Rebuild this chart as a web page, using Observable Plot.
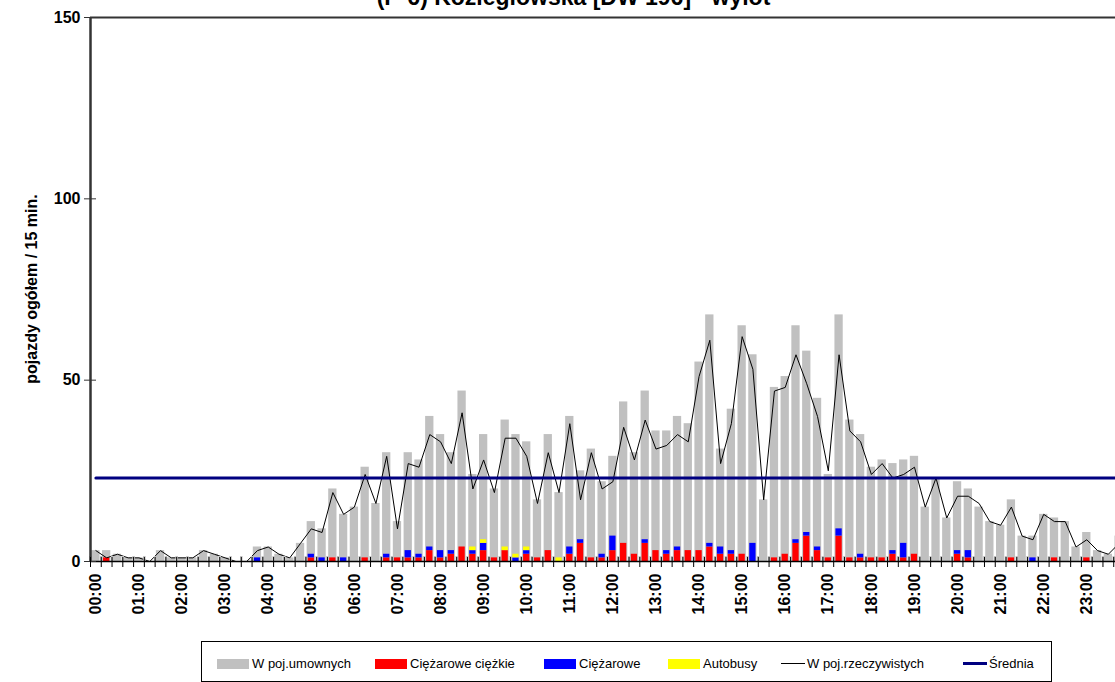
<!DOCTYPE html>
<html><head><meta charset="utf-8">
<script src="https://cdn.jsdelivr.net/npm/d3@7"></script>
<script src="https://cdn.jsdelivr.net/npm/@observablehq/plot@0.6"></script>
<style>
html,body{margin:0;padding:0;overflow:hidden;background:#fff;}
#wrap{position:relative;width:1115px;height:682px;overflow:hidden;font-family:"Liberation Sans",Arial,sans-serif;}
#title{position:absolute;left:0;width:1147px;top:-16px;text-align:center;font-weight:bold;font-size:23px;line-height:27px;color:#000;white-space:nowrap;}
#ytitle{position:absolute;left:32px;top:289px;transform:translate(-50%,-50%) rotate(-90deg);font-weight:bold;font-size:16px;white-space:nowrap;color:#000;}
#chart{position:absolute;left:0;top:0;}
#chart svg{max-width:none;}
#legend{position:absolute;left:201px;top:641px;width:851px;height:41px;border:1px solid #000;box-sizing:border-box;font-size:13px;color:#000;}
#legend .sw{position:absolute;top:17px;width:32px;height:10px;}
#legend .ln{position:absolute;width:24px;}
#legend .lb{position:absolute;top:14px;line-height:16px;white-space:nowrap;}
</style></head>
<body>
<div id="wrap">
  <div id="chart"></div>
  <div id="title">(P-6) Koziegłowska [DW 196] - wylot</div>
  <div id="ytitle">pojazdy ogółem / 15 min.</div>
  <div id="legend">
    <span class="sw" style="left:15px;background:#c0c0c0"></span><span class="lb" style="left:50px">W poj.umownych</span>
    <span class="sw" style="left:173px;background:#ff0000"></span><span class="lb" style="left:208px">Ciężarowe ciężkie</span>
    <span class="sw" style="left:342px;background:#0000ff"></span><span class="lb" style="left:377px">Ciężarowe</span>
    <span class="sw" style="left:466px;background:#ffff00"></span><span class="lb" style="left:501px">Autobusy</span>
    <span class="ln" style="left:579px;top:21px;height:1px;background:#000"></span><span class="lb" style="left:605px">W poj.rzeczywistych</span>
    <span class="ln" style="left:761px;top:20px;height:3px;background:#000080"></span><span class="lb" style="left:787px">Średnia</span>
  </div>
</div>
<script>
// 15-minute slots, 00:00 .. 23:45
const hourLabels = ["00:00","01:00","02:00","03:00","04:00","05:00","06:00","07:00","08:00","09:00","10:00","11:00",
  "12:00","13:00","14:00","15:00","16:00","17:00","18:00","19:00","20:00","21:00","22:00","23:00"];

// W poj.umownych (passenger car units)
const umowne = [3,3,2,1,1,0,3,1,1,1,3,2,1,0,0,4,4,2,1,5,
  11,9,20,13,15,26,16,30,11,30,28,40,35,30,47,24,35,20,39,35,
  33,17,35,19,40,25,31,22,29,44,30,47,36,36,40,38,55,68,31,42,
  65,57,17,48,51,65,58,45,24,68,39,35,26,28,27,28,29,15,23,12,
  22,20,15,11,10,17,7,7,13,12,11,4,8,3,2,7];

// W poj.rzeczywistych (actual vehicles)
const rzeczywiste = [3,1,2,1,1,0,3,1,1,1,3,2,1,0,0,3,4,2,1,5,
  9,8,19,13,15,24,16,29,9,27,26,35,33,27,41,20,28,19,34,34,
  29,16,30,19,38,17,30,20,22,37,28,39,31,32,35,33,51,61,27,38,
  62,53,17,47,48,57,49,40,25,57,36,33,24,27,23,24,26,15,23,12,
  18,18,16,11,10,15,7,6,13,11,11,4,6,3,2,5];

// Ciężarowe ciężkie
const ciezkie = [0,1,0,0,0,0,0,0,0,0,0,0,0,0,0,0,0,0,0,0,
  1,0,1,0,0,1,0,1,1,1,1,3,1,2,4,2,3,1,3,0,
  2,1,3,0,2,5,1,1,3,5,2,5,3,2,3,3,3,4,2,2,
  2,0,0,1,2,5,7,3,1,7,1,1,1,1,2,1,2,0,0,0,
  2,1,0,0,0,1,0,0,0,1,0,0,1,0,0,1];

// Ciężarowe
const ciezarowe = [0,0,0,0,0,0,0,0,0,0,0,0,0,0,0,1,0,0,0,0,
  1,1,0,1,0,0,0,1,0,2,1,1,2,1,0,1,2,0,0,1,
  1,0,0,0,2,1,0,1,4,0,0,1,0,1,1,0,0,1,2,1,
  0,5,0,0,0,1,1,1,0,2,0,1,0,0,1,4,0,0,0,0,
  1,2,0,0,0,0,0,1,0,0,0,0,0,0,0,0];

// Autobusy
const autobusy = [0,0,0,0,0,0,0,0,0,0,0,0,0,0,0,0,0,0,0,0,
  0,0,0,0,0,0,0,0,0,0,0,0,0,0,0,1,1,0,1,1,
  1,0,0,1,0,0,0,0,0,0,0,0,0,0,0,0,0,0,0,0,
  0,0,0,0,0,0,0,0,0,0,0,0,0,0,0,0,0,0,0,0,
  0,0,0,0,0,0,0,0,0,0,0,0,0,0,0,0];

const srednia = 23;
const yTicks = [0, 50, 100, 150];

const slots = umowne.map((v, i) => ({i, umowne: v, rzeczywiste: rzeczywiste[i], srednia}));
const types = ["Ciężarowe ciężkie", "Ciężarowe", "Autobusy"];
const stackData = [];
slots.forEach(({i}) => {
  stackData.push({i, type: types[0], value: ciezkie[i]});
  stackData.push({i, type: types[1], value: ciezarowe[i]});
  stackData.push({i, type: types[2], value: autobusy[i]});
});

const W = 1140, H = 640;
const x0 = 90, x1 = 1124;
const step = (x1 - x0) / umowne.length;
const font = '"Liberation Sans", Arial, sans-serif';
const blank = () => "";

const chart = Plot.plot({
  width: W, height: H,
  marginLeft: x0, marginRight: W - x1, marginTop: 17, marginBottom: H - 561,
  style: {fontFamily: font, background: "#fff", overflow: "visible"},
  x: {type: "band", domain: d3.range(umowne.length), paddingInner: 0.23, paddingOuter: 0.115, axis: null},
  y: {domain: [0, 150], axis: null},
  color: {domain: types, range: ["#ff0000", "#0000ff", "#ffff00"]},
  marks: [
    Plot.barY(slots, {x: "i", y: "umowne", fill: "#c0c0c0"}),
    Plot.barY(stackData, {x: "i", y: "value", fill: "type", insetLeft: 1, insetRight: 1}),
    Plot.lineY(slots, {x: "i", y: "rzeczywiste", stroke: "#000", strokeWidth: 1}),
    Plot.lineY(slots, {x: "i", y: "srednia", stroke: "#000080", strokeWidth: 3}),
    // light stubs between bars at the base
    Plot.axisX({ticks: d3.range(umowne.length), tickSize: 5, dy: -5, dx: -step / 2, tickFormat: blank, label: null, stroke: "#c0c0c0", strokeWidth: 2.5}),
    // axes frame
    Plot.ruleY([0], {stroke: "#000", strokeWidth: 1.5}),
    Plot.ruleY([150], {stroke: "#333", strokeWidth: 2}),
    Plot.ruleX([0], {dx: -step / 2, stroke: "#333", strokeWidth: 2.5}),
    // y ticks (crossing) and labels
    Plot.axisY({ticks: yTicks, tickSize: 12, dx: 6, tickFormat: blank, label: null, stroke: "#333"}),
    Plot.axisY({ticks: yTicks, tickSize: 0, tickPadding: 10, fontSize: 16, fontWeight: "bold", fill: "#000", label: null}),
    // x ticks at slot boundaries (crossing)
    Plot.axisX({ticks: d3.range(umowne.length), tickSize: 10, dy: -4, dx: -step / 2, tickFormat: blank, label: null, stroke: "#000"}),
    // hour labels
    Plot.axisX({ticks: d3.range(0, umowne.length, 4), tickSize: 0, tickPadding: 12, tickRotate: -90,
      tickFormat: i => hourLabels[i / 4], fontSize: 16, fontWeight: "bold", fill: "#000", label: null})
  ]
});
document.getElementById("chart").appendChild(chart);
</script>
</body></html>
